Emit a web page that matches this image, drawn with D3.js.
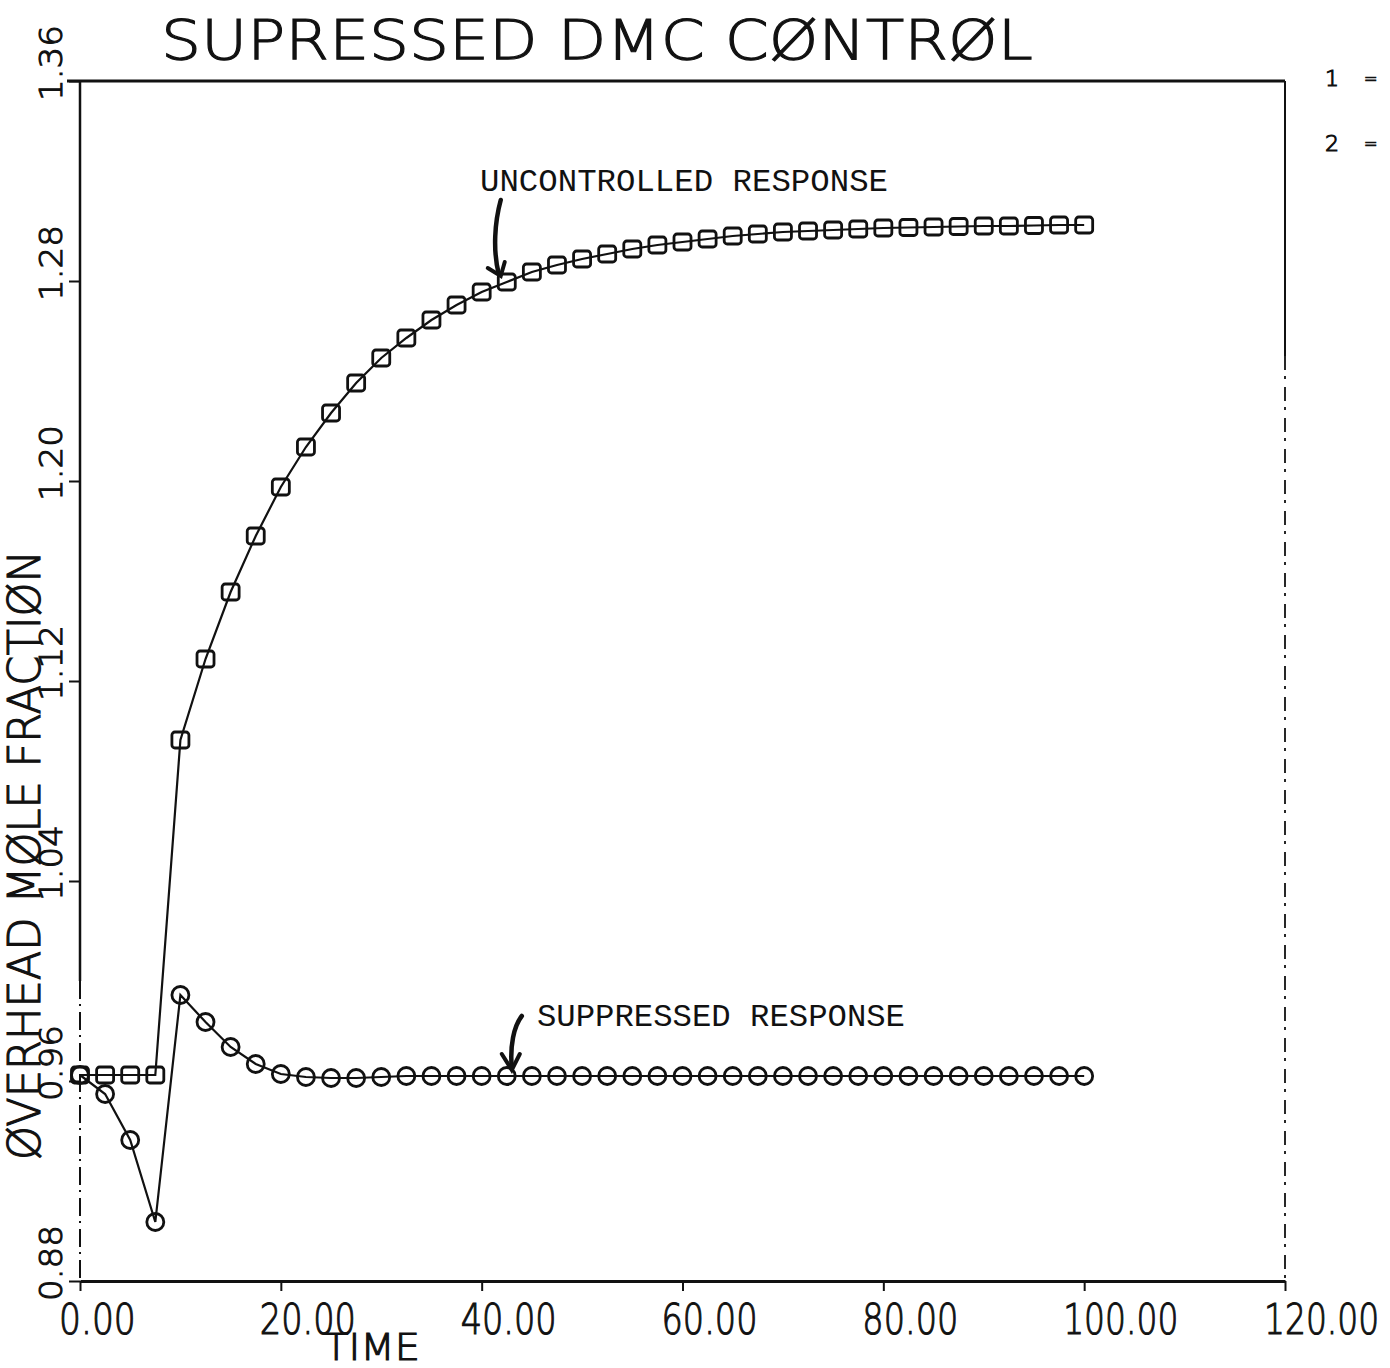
<!DOCTYPE html>
<html>
<head>
<meta charset="utf-8">
<script src="https://cdn.jsdelivr.net/npm/d3@7"></script>
<style>
  body { margin: 0; background: #fff; }
  svg { display: block; }
  .plotter { font-family: "DejaVu Sans", sans-serif; font-weight: 200; fill: #111; stroke: #111; stroke-width: 1.1; }
  .typed { font-family: "Liberation Mono", "Courier New", monospace; fill: #111; }
</style>
</head>
<body>
<svg id="chart"></svg>
<script>
const times = [0, 2.5, 5, 7.5, 10, 12.5, 15, 17.5, 20, 22.5, 25, 27.5, 30, 32.5, 35, 37.5, 40,
  42.5, 45, 47.5, 50, 52.5, 55, 57.5, 60, 62.5, 65, 67.5, 70, 72.5, 75, 77.5, 80,
  82.5, 85, 87.5, 90, 92.5, 95, 97.5, 100];
const uncontrolled = [0.9624, 0.9624, 0.9624, 0.9624, 1.0964, 1.1288, 1.1556, 1.178, 1.1976, 1.2136,
  1.2272, 1.2392, 1.2492, 1.2572, 1.2644, 1.2704, 1.2756, 1.2796, 1.2836, 1.2864, 1.2888,
  1.2908, 1.2928, 1.2944, 1.2956, 1.2968, 1.298, 1.2988, 1.2996, 1.3, 1.3004, 1.3008,
  1.3012, 1.3014, 1.3016, 1.3018, 1.302, 1.302, 1.3022, 1.3024, 1.3024];
const suppressed = [0.9624, 0.9548, 0.9364, 0.9036, 0.9944, 0.9836, 0.9736, 0.9668, 0.9628, 0.9616,
  0.9612, 0.9612, 0.9616, 0.962, 0.962, 0.962, 0.962, 0.962, 0.962, 0.962, 0.962,
  0.962, 0.962, 0.962, 0.962, 0.962, 0.962, 0.962, 0.962, 0.962, 0.962, 0.962,
  0.962, 0.962, 0.962, 0.962, 0.962, 0.962, 0.962, 0.962, 0.962];
const xTicks = [0, 20, 40, 60, 80, 100, 120];
const yTicks = [0.88, 0.96, 1.04, 1.12, 1.20, 1.28, 1.36];
const xTickLabels = ["0.00", "20.00", "40.00", "60.00", "80.00", "100.00", "120.00"];
const yTickLabels = ["0.88", "0.96", "1.04", "1.12", "1.20", "1.28", "1.36"];
const legendLabels = ["1", "2"];
const titleText = "SUPRESSED DMC CØNTRØL";
const xLabel = "TIME";
const yLabel = "ØVERHEAD MØLE FRACTIØN";

const width = 1390, height = 1368;
const svg = d3.select("#chart").attr("width", width).attr("height", height);

const x = d3.scaleLinear().domain([0, 120]).range([80, 1285]);
const y = d3.scaleLinear().domain([0.88, 1.36]).range([1281, 81]);
const ink = "#111";

// squeeze a text horizontally to a given width (plotter font is narrow)
function squeeze(textSel, px, py, target, rot) {
  textSel.each(function (d, i) {
    const el = d3.select(this);
    const w = this.getComputedTextLength();
    const tx = typeof px === "function" ? px(d, i) : px;
    const ty = typeof py === "function" ? py(d, i) : py;
    const tw = typeof target === "function" ? target(d, i) : target;
    el.attr("transform", `translate(${tx},${ty})${rot ? " rotate(-90)" : ""} scale(${tw / w},1)`);
  });
}

// frame: top and right border (right one is faint / broken like the scan)
svg.append("line").attr("x1", 67).attr("x2", x(120)).attr("y1", y(1.36)).attr("y2", y(1.36))
  .attr("stroke", ink).attr("stroke-width", 3);
svg.append("line").attr("x1", x(120)).attr("x2", x(120)).attr("y1", y(1.36)).attr("y2", y(1.25))
  .attr("stroke", ink).attr("stroke-width", 2);
svg.append("line").attr("x1", x(120)).attr("x2", x(120)).attr("y1", y(1.25)).attr("y2", y(0.88))
  .attr("stroke", ink).attr("stroke-width", 1.8).attr("stroke-dasharray", "14,6,3,8");

// x axis
const gx = svg.append("g").attr("transform", `translate(0,${y(0.88)})`)
  .call(d3.axisBottom(x).tickValues(xTicks).tickSize(10).tickSizeOuter(0).tickFormat(""));
gx.select(".domain").attr("stroke", ink).attr("stroke-width", 3);
gx.selectAll(".tick line").attr("stroke", ink).attr("stroke-width", 2);

// y axis: solid on top, broken lower down as on the plot
const gy = svg.append("g").attr("transform", `translate(${x(0)},0)`)
  .call(d3.axisLeft(y).tickValues(yTicks).tickSize(11).tickSizeOuter(0).tickFormat(""));
gy.select(".domain").attr("stroke", "none");
gy.selectAll(".tick line").attr("stroke", ink).attr("stroke-width", 2);
gy.append("line").attr("x1", 0).attr("x2", 0).attr("y1", y(1.36)).attr("y2", y(1.00))
  .attr("stroke", ink).attr("stroke-width", 2.5);
gy.append("line").attr("x1", 0).attr("x2", 0).attr("y1", y(1.00)).attr("y2", y(0.88))
  .attr("stroke", ink).attr("stroke-width", 2).attr("stroke-dasharray", "18,5,2,6");

// tick labels
const xt = svg.append("g").selectAll("text").data(xTicks).join("text")
  .attr("class", "plotter")
  .attr("font-size", 43)
  .text((d, i) => xTickLabels[i]);
squeeze(xt, d => x(d) - 21, 1334, (d, i) => xTickLabels[i].length * 19.2, false);

const yt = svg.append("g").selectAll("text").data(yTicks).join("text")
  .attr("class", "plotter")
  .attr("font-size", 32)
  .text((d, i) => yTickLabels[i]);
squeeze(yt, 62, d => y(d) + 20, 76, true);

// titles
const title = svg.append("text").attr("class", "plotter").attr("font-size", 55).text(titleText);
squeeze(title, 161, 59, 872, false);
const xl = svg.append("text").attr("class", "plotter").attr("font-size", 38).text(xLabel);
squeeze(xl, 324, 1360, 96, false);
const yl = svg.append("text").attr("class", "plotter").attr("font-size", 44).text(yLabel);
squeeze(yl, 40, 1160, 610, true);

// legend stub at right
svg.append("g").selectAll("text").data(legendLabels).join("text")
  .attr("class", "plotter").attr("x", 1325).attr("y", (d, i) => 86 + i * 65)
  .attr("font-size", 22).text(d => d);
svg.append("g").selectAll("text").data(legendLabels).join("text")
  .attr("class", "plotter").attr("x", 1364).attr("y", (d, i) => 84 + i * 65)
  .attr("font-size", 16).attr("stroke-width", 1.8).text("=");

// series
const pts = vals => times.map((t, i) => [t, vals[i]]);
const line = d3.line().x(d => x(d[0])).y(d => y(d[1]));

svg.append("path").datum(pts(uncontrolled)).attr("d", line)
  .attr("fill", "none").attr("stroke", ink).attr("stroke-width", 2.2);
svg.append("path").datum(pts(suppressed)).attr("d", line)
  .attr("fill", "none").attr("stroke", ink).attr("stroke-width", 2.2);

svg.append("g").selectAll("rect").data(pts(uncontrolled)).join("rect")
  .attr("x", d => x(d[0]) - 8.5).attr("y", d => y(d[1]) - 8)
  .attr("width", 17).attr("height", 16).attr("rx", 3)
  .attr("fill", "none").attr("stroke", ink).attr("stroke-width", 2.8);

svg.append("g").selectAll("circle").data(pts(suppressed)).join("circle")
  .attr("cx", d => x(d[0])).attr("cy", d => y(d[1])).attr("r", 8.5)
  .attr("fill", "none").attr("stroke", ink).attr("stroke-width", 2.8);

// hand written annotations
svg.append("text").attr("class", "typed")
  .attr("x", 480).attr("y", 191).attr("font-size", 31)
  .attr("textLength", 408).attr("lengthAdjust", "spacingAndGlyphs")
  .text("UNCONTROLLED RESPONSE");
svg.append("text").attr("class", "typed")
  .attr("x", 537).attr("y", 1026).attr("font-size", 31)
  .attr("textLength", 368).attr("lengthAdjust", "spacingAndGlyphs")
  .text("SUPPRESSED RESPONSE");

function arrow(tx, tv, path, head) {
  const px = x(tx), py = y(tv);
  const g = svg.append("g").attr("transform", `translate(${px},${py})`)
    .attr("fill", "none").attr("stroke", ink).attr("stroke-width", 4.5).attr("stroke-linecap", "round");
  g.append("path").attr("d", path);
  g.append("path").attr("d", head).attr("stroke-width", 4);
}
arrow(42, uncontrolled[17], "M-1,-82 C-7,-60 -9,-32 -3,-8", "M-14,-14 L-1,-6 L3,-20");
arrow(43, suppressed[17], "M10,-60 C2,-50 -2,-30 0,-8", "M-10,-22 L0,-6 L8,-22");
</script>
</body>
</html>
